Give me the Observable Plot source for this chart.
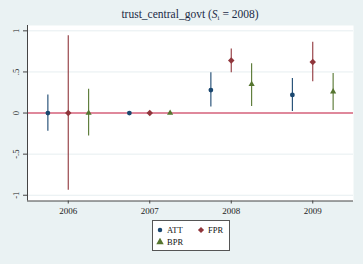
<!DOCTYPE html>
<html><head><meta charset="utf-8">
<script src="https://cdn.jsdelivr.net/npm/d3@7"></script>
<script src="https://cdn.jsdelivr.net/npm/@observablehq/plot@0.6"></script>
<style>
html,body{margin:0;padding:0;background:#eaf2f3;}
#wrap{position:relative;width:363px;height:264px;background:#eaf2f3;font-family:"Liberation Serif","Times New Roman",serif;overflow:hidden}
#wrap svg{position:absolute;left:0;top:0}
#title{position:absolute;left:27px;width:326px;top:7px;text-align:center;font-size:11.5px;color:#1c2b46;line-height:14px;white-space:nowrap}
#title sub{font-size:7px;vertical-align:-2px;line-height:0}
#legend{position:absolute;left:152px;top:220px;width:76px;height:29px;background:#fff;border:1px solid #555;font-size:8.5px;color:#111}
.item{position:absolute;display:flex;align-items:center;line-height:10px}
.item svg{position:static!important;margin-right:3px}
</style></head><body><div id="wrap"><div id="title"></div><div id="legend"></div></div>
<script>
const years = [2006, 2007, 2008, 2009];
const seriesNames = ["ATT", "FPR", "BPR"];
const attEst = [0, 0, 0.28, 0.22];
const attLo  = [-0.22, 0, 0.075, 0.02];
const attHi  = [0.22, 0, 0.49, 0.42];
const fprEst = [0, 0, 0.64, 0.62];
const fprLo  = [-0.94, 0, 0.49, 0.38];
const fprHi  = [0.94, 0, 0.78, 0.86];
const bprEst = [0, 0, 0.35, 0.26];
const bprLo  = [-0.28, 0, 0.08, 0.03];
const bprHi  = [0.29, 0, 0.6, 0.48];
const yTicks = [-1, -0.5, 0, 0.5, 1];
const titleText = "trust_central_govt";
const titleYear = "2008";

const colors = ["#1a476f", "#90353b", "#55752f"];
const symbols = ["circle", "diamond2", "triangle"];
const symbolR = {ATT: 2.4, FPR: 2.9, BPR: 2.3};
const dodge = {ATT: -0.25, FPR: 0, BPR: 0.25};
const xDomain = [2005.5, 2009.5];
const yDomain = [-1.07, 1.065];

const bySeries = {
  ATT: [attEst, attLo, attHi],
  FPR: [fprEst, fprLo, fprHi],
  BPR: [bprEst, bprLo, bprHi]
};
const rows = [];
for (const s of seriesNames) {
  const [e, lo, hi] = bySeries[s];
  years.forEach((y, i) => rows.push({series: s, year: y, est: e[i], lo: lo[i], hi: hi[i]}));
}
const xPos = d => d.year + dodge[d.series];
const fmt = d => String(d).replace("0.", ".");

const chart = Plot.plot({
  width: 363, height: 264,
  marginLeft: 27, marginRight: 10, marginTop: 25, marginBottom: 63.5,
  style: {fontFamily: "Liberation Serif, serif", background: "transparent", color: "#333"},
  x: {domain: xDomain, axis: null},
  y: {domain: yDomain, axis: null},
  color: {domain: seriesNames, range: colors},
  symbol: {domain: seriesNames, range: symbols},
  marks: [
    Plot.frame({fill: "white", stroke: null}),
    Plot.gridY([-1, -0.5, 0.5, 1], {stroke: "#e6eef0", strokeOpacity: 1}),
    Plot.ruleY([0], {stroke: "#d4607a", strokeWidth: 1.6}),
    Plot.ruleX(rows, {x: xPos, y1: "lo", y2: "hi", stroke: "series", strokeWidth: 1.1}),
    ...seriesNames.map(s =>
      Plot.dot(rows.filter(d => d.series === s), {x: xPos, y: "est", fill: "series", symbol: "series", r: symbolR[s], stroke: "none"})
    ),
    Plot.axisX(years, {tickSize: 3, tickPadding: 4, tickFormat: d => String(d), fontSize: 9, fill: "#222", stroke: "#444"}),
    Plot.axisY(yTicks, {tickSize: 4, tickFormat: () => "", stroke: "#444"}),
    Plot.text(yTicks, {y: d => d, frameAnchor: "left", dx: -9, rotate: -90, text: fmt, textAnchor: "middle", lineAnchor: "bottom", fontSize: 8.5, fill: "#222"}),
    Plot.ruleX([xDomain[0]], {stroke: "#444", strokeWidth: 1}),
    Plot.ruleY([yDomain[0]], {stroke: "#444", strokeWidth: 1})
  ]
});
const wrap = document.getElementById("wrap");
wrap.insertBefore(chart, wrap.firstChild);

document.getElementById("title").innerHTML = titleText + " (<i>S</i><sub>i</sub> = " + titleYear + ")";

const legend = document.getElementById("legend");
const pos = [[3, 4], [44, 4], [3, 16]];
const legendTypes = [d3.symbolCircle, d3.symbolDiamond2, d3.symbolTriangle];
seriesNames.forEach((s, i) => {
  const div = document.createElement("div");
  div.className = "item";
  div.style.left = pos[i][0] + "px";
  div.style.top = pos[i][1] + "px";
  const path = d3.symbol(legendTypes[i], i === 0 ? 16 : 24)();
  div.innerHTML = `<svg width="8" height="8" viewBox="-4 -4 8 8"><path d="${path}" fill="${colors[i]}"/></svg><span>${s}</span>`;
  legend.appendChild(div);
});
</script></body></html>
